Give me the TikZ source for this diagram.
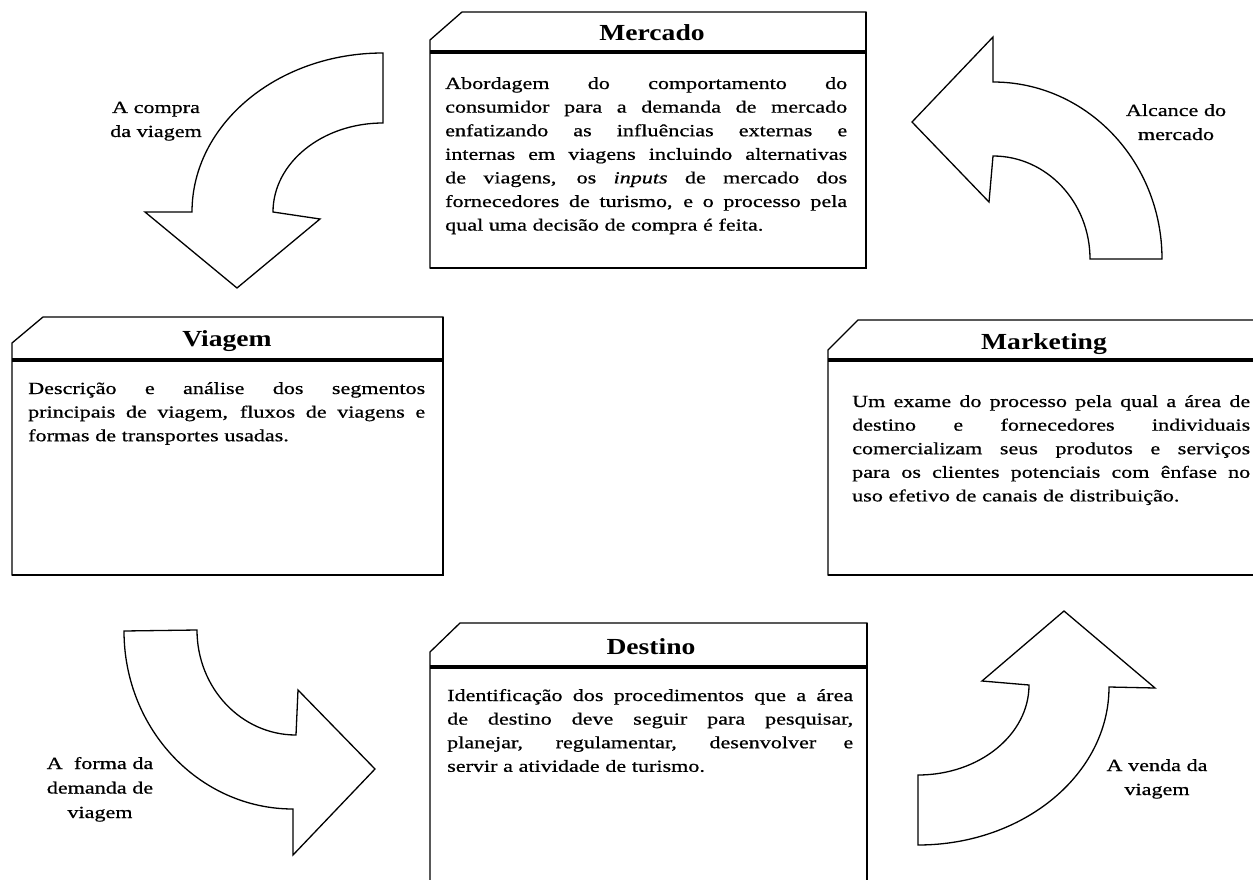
\documentclass[tikz,border=0pt]{standalone}
\usepackage{fontspec}
\setmainfont{Liberation Serif}[FakeStretch=1.3, FakeBold=0.7]
\newfontfamily\headfont{Liberation Serif}[FakeStretch=1.2]
% one fully justified line of body text
\newcommand\jl[1]{\leavevmode\hbox to\linewidth{\spaceskip=0pt\xspaceskip=0pt #1}}
\begin{document}
\begin{tikzpicture}[x=1pt,y=-1pt,
  frame/.style={line width=1.3pt, line join=miter},
  heavyedge/.style={line width=2.2pt},
  headrule/.style={line width=3.5pt},
  head/.style={font=\headfont\bfseries\fontsize{23}{27}\selectfont, anchor=base, inner sep=0pt},
  body/.style={font=\fontsize{17}{23.6}\selectfont, anchor=base west, inner sep=0pt, align=left},
  lab/.style={font=\fontsize{17}{24}\selectfont, anchor=base, inner sep=0pt, align=center, text width=150pt},
  bentarrow/.style={line width=1.3pt, line join=miter, fill=white}
]
\useasboundingbox (0,0) rectangle (1253,880);

% ---- boxes ----
% Mercado
\draw[frame] (430,40) -- (462,12) -- (866,12) -- (866,268) -- (430,268) -- cycle;
\draw[heavyedge] (866,12) -- (866,268) -- (430,268);
\draw[headrule] (430,52) -- (866,52);
% Viagem
\draw[frame] (12,343) -- (43,317) -- (443,317) -- (443,575) -- (12,575) -- cycle;
\draw[heavyedge] (443,317) -- (443,575) -- (12,575);
\draw[headrule] (12,360) -- (443,360);
% Marketing
\draw[frame] (828,350) -- (858,320) -- (1262,320) -- (1262,575) -- (828,575) -- cycle;
\draw[heavyedge] (1262,575) -- (828,575);
\draw[headrule] (828,360) -- (1262,360);
% Destino
\draw[frame] (430,652) -- (460,623) -- (867,623) -- (867,892) -- (430,892) -- cycle;
\draw[heavyedge] (867,623) -- (867,892);
\draw[headrule] (430,667) -- (867,667);

% ---- titles ----
\node[head] (mercadoT) at (652,41) {Mercado};
\node[head] (viagemT) at (227,346) {Viagem};
\node[head] (marketingT) at (1044,349) {Marketing};
\node[head] (destinoT) at (651,654) {Destino};

% ---- descriptions ----
\node[body, text width=402pt] (mercadoB) at (445,89) {%
\jl{Abordagem do comportamento do}\\
\jl{consumidor para a demanda de mercado}\\
\jl{enfatizando as influências externas e}\\
\jl{internas em viagens incluindo alternativas}\\
\jl{de viagens, os \textit{inputs} de mercado dos}\\
\jl{fornecedores de turismo, e o processo pela}\\
qual uma decisão de compra é feita.};

\node[body, text width=397pt] (viagemB) at (28,394) {%
\jl{Descrição e análise dos segmentos}\\
\jl{principais de viagem, fluxos de viagens e}\\
formas de transportes usadas.};

\node[body, text width=398pt] (marketingB) at (852,407) {%
\jl{Um exame do processo pela qual a área de}\\
\jl{destino e fornecedores individuais}\\
\jl{comercializam seus produtos e serviços}\\
\jl{para os clientes potenciais com ênfase no}\\
uso efetivo de canais de distribuição.};

\node[body, text width=406pt] (destinoB) at (447,701) {%
\jl{Identificação dos procedimentos que a área}\\
\jl{de destino deve seguir para pesquisar,}\\
\jl{planejar, regulamentar, desenvolver e}\\
servir a atividade de turismo.};

% ---- bent arrows ----
% top left: pointing down
\draw[bentarrow] (383,123) -- (383,53)
  arc[start angle=-90, end angle=-180, x radius=191, y radius=159]
  -- (145,212) -- (237,288) -- (320,219) -- (273,212)
  arc[start angle=180, end angle=270, x radius=110, y radius=89] -- cycle;
% top right: pointing left
\draw[bentarrow] (1090,259) -- (1162,259)
  arc[start angle=0, end angle=-90, x radius=169, y radius=177]
  -- (993,37) -- (912,122) -- (989,202) -- (993,156)
  arc[start angle=-90, end angle=0, x radius=97, y radius=103] -- cycle;
% bottom left: pointing right
\draw[bentarrow] (197,630) -- (124,631)
  arc[start angle=180, end angle=90, x radius=169, y radius=178]
  -- (293,855) -- (375,769) -- (298,690) -- (296,735)
  arc[start angle=90, end angle=180, x radius=99, y radius=105] -- cycle;
% bottom right: pointing up
\draw[bentarrow] (918,777) -- (918,845)
  arc[start angle=90, end angle=0, x radius=191, y radius=158]
  -- (1155,688) -- (1064,611) -- (982,681) -- (1029,685)
  arc[start angle=0, end angle=90, x radius=111, y radius=90] -- cycle;

% ---- arrow captions ----
\node[lab] (compra) at (156,113) {A compra\\da viagem};
\node[lab] (alcance) at (1176,116) {Alcance do\\mercado};
\node[lab, font=\fontsize{17}{24.5}\selectfont] (forma) at (100,769) {A~~forma da\\demanda de\\viagem};
\node[lab] (venda) at (1157,771) {A venda da\\viagem};
\end{tikzpicture}
\end{document}
